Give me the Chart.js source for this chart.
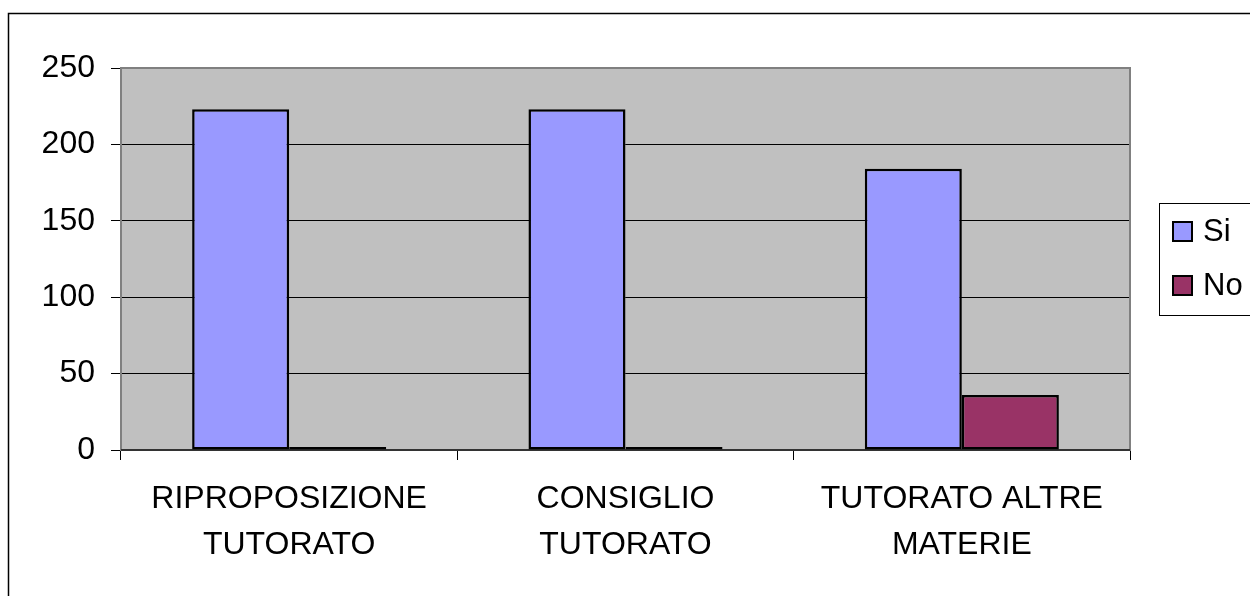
<!DOCTYPE html>
<html>
<head>
<meta charset="utf-8">
<script src="https://cdn.jsdelivr.net/npm/chart.js@4"></script>
<style>
    html, body { margin: 0; padding: 0; background: #fff; }
    #wrap { width: 1250px; height: 596px; }
</style>
</head>
<body>
<div id="wrap"><canvas id="tutoratoChart" width="1250" height="596"></canvas></div>
<script>
// Chart data
const categories = [['RIPROPOSIZIONE', 'TUTORATO'], ['CONSIGLIO', 'TUTORATO'], ['TUTORATO ALTRE', 'MATERIE']];
const siValues = [223, 223, 184];
const noValues = [2, 2, 36];
const seriesNames = ['Si', 'No'];
const seriesColors = ['#9999FF', '#993366'];

const FONT = "'Liberation Sans', Arial, sans-serif";

// Plot background, frame and outer border
const framePlugin = {
    id: 'frame',
    beforeDraw: (chart) => {
        const { ctx, chartArea: a } = chart;
        ctx.save();
        ctx.fillStyle = '#fff';
        ctx.fillRect(0, 0, chart.width, chart.height);
        ctx.fillStyle = '#C0C0C0';
        ctx.fillRect(a.left, a.top, a.right - a.left, a.bottom - a.top);
        ctx.strokeStyle = '#000';
        ctx.lineWidth = 1.5;
        ctx.strokeRect(8.5, 13.5, 1400, 800);
        ctx.restore();
    },
    beforeDatasetsDraw: (chart) => {
        const { ctx, chartArea: a } = chart;
        ctx.save();
        ctx.strokeStyle = '#808080';
        ctx.lineWidth = 2;
        ctx.strokeRect(a.left, a.top, a.right - a.left, a.bottom - a.top);
        ctx.strokeStyle = '#333';
        ctx.beginPath();
        ctx.moveTo(a.left, a.bottom);
        ctx.lineTo(a.right, a.bottom);
        ctx.stroke();
        ctx.restore();
    },
    afterDraw: (chart) => {
        // Legend box on the right
        const ctx = chart.ctx;
        ctx.save();
        ctx.strokeStyle = '#000';
        ctx.lineWidth = 1;
        ctx.strokeRect(1159.5, 203.5, 200, 112);
        ctx.font = '31px ' + FONT;
        ctx.textBaseline = 'middle';
        chart.data.datasets.forEach((ds, i) => {
            const y = 222 + i * 54;
            ctx.fillStyle = ds.backgroundColor;
            ctx.fillRect(1173, y, 19, 19);
            ctx.lineWidth = 2;
            ctx.strokeStyle = '#000';
            ctx.strokeRect(1173, y, 19, 19);
            ctx.fillStyle = '#000';
            ctx.fillText(ds.label, 1203, y + 10);
        });
        ctx.restore();
    }
};

new Chart(document.getElementById('tutoratoChart').getContext('2d'), {
    type: 'bar',
    data: {
        labels: categories,
        datasets: [
            { label: seriesNames[0], data: siValues, backgroundColor: seriesColors[0] },
            { label: seriesNames[1], data: noValues, backgroundColor: seriesColors[1] }
        ]
    },
    options: {
        responsive: false,
        animation: false,
        layout: { padding: { top: 68, right: 120, bottom: 0, left: 0 } },
        datasets: {
            bar: {
                barPercentage: 1,
                categoryPercentage: 0.577,
                borderColor: '#000',
                borderWidth: 2.5,
                borderSkipped: false
            }
        },
        plugins: {
            legend: { display: false },
            tooltip: { enabled: false }
        },
        scales: {
            x: {
                offset: true,
                grid: { offset: true, drawOnChartArea: false, drawTicks: true, tickLength: 10, color: '#000' },
                border: { display: false },
                ticks: { color: '#000', padding: 16, maxRotation: 0, font: { family: FONT, size: 32, lineHeight: 1.44 } },
                afterFit: (scale) => { scale.height = 146; }
            },
            y: {
                min: 0,
                max: 250,
                grid: { color: '#000', tickLength: 10 },
                border: { display: false },
                ticks: { stepSize: 50, color: '#000', padding: 16, font: { family: FONT, size: 32 } },
                afterFit: (scale) => { scale.width = 121; }
            }
        }
    },
    plugins: [framePlugin]
});
</script>
</body>
</html>
